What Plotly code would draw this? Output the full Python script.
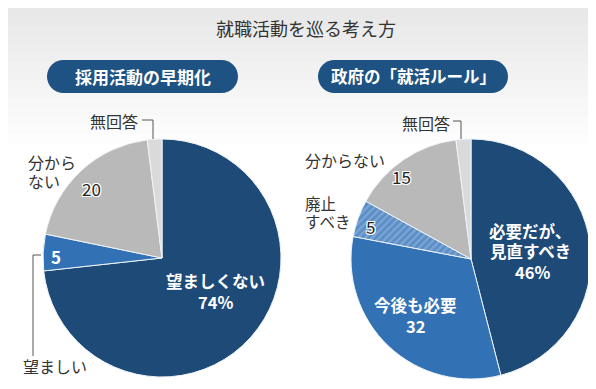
import plotly.graph_objects as go

# ---- data ----
title_text = "就職活動を巡る考え方"
left_title = "採用活動の早期化"
right_title = "政府の「就活ルール」"

left_labels = ["望ましくない", "望ましい", "分からない", "無回答"]
left_values = [74, 5, 20, 2]
left_colors = ["#1e4a78", "#3272b4", "#b9b9b9", "#dadada"]

right_labels = ["必要だが、見直すべき", "今後も必要", "廃止すべき", "分からない", "無回答"]
right_values = [46, 32, 5, 15, 2]
right_colors = ["#1e4a78", "#3272b4", "#5b8ec6", "#b9b9b9", "#dadada"]
right_patterns = ["", "", "/", "", ""]

W, H = 596, 389
FONT = "Noto Sans CJK JP, Noto Sans, sans-serif"
HALO = "1px 1px 0 #fff, -1px -1px 0 #fff, 1px -1px 0 #fff, -1px 1px 0 #fff, 0 1px 0 #fff, 0 -1px 0 #fff, 1px 0 0 #fff, -1px 0 0 #fff"

fig = go.Figure()

# invisible helper trace to establish pixel axes
fig.add_trace(go.Scatter(x=[0, W], y=[0, H], mode="markers",
                         marker=dict(opacity=0), hoverinfo="skip", showlegend=False))

def dom(cx, cy, r):
    return dict(x=[(cx - r) / W, (cx + r) / W], y=[(H - (cy + r)) / H, (H - (cy - r)) / H])

fig.add_trace(go.Pie(
    labels=left_labels, values=left_values, sort=False, direction="clockwise", rotation=0,
    marker=dict(colors=left_colors, line=dict(color="#eef3f8", width=1)),
    textinfo="none", hoverinfo="label+value", showlegend=False,
    domain=dom(154, 250, 119)))

fig.add_trace(go.Pie(
    labels=right_labels, values=right_values, sort=False, direction="clockwise", rotation=0,
    marker=dict(colors=right_colors, line=dict(color="#eef3f8", width=1),
                pattern=dict(shape=right_patterns, fgcolor="#9dbde2", size=5, solidity=0.45,
                             fillmode="overlay")),
    textinfo="none", hoverinfo="label+value", showlegend=False,
    domain=dom(463, 251, 120)))

shapes = []
# background gradient
steps = 16
for i in range(steps):
    t = i / (steps - 1)
    c = int(232 + (255 - 232) * t)
    shapes.append(dict(type="rect", xref="x", yref="y", x0=0, x1=W, y0=i * 9, y1=(i + 1) * 9 + 1,
                       fillcolor=f"rgb({c},{c},{c})", line=dict(width=0), layer="below"))

def pill(x0, x1, y0, y1, color):
    r = (y1 - y0) / 2
    k = 0.5523 * r
    cy = (y0 + y1) / 2
    p = (f"M {x0 + r},{y0} L {x1 - r},{y0} "
         f"C {x1 - r + k},{y0} {x1},{cy - k} {x1},{cy} "
         f"C {x1},{cy + k} {x1 - r + k},{y1} {x1 - r},{y1} "
         f"L {x0 + r},{y1} "
         f"C {x0 + r - k},{y1} {x0},{cy + k} {x0},{cy} "
         f"C {x0},{cy - k} {x0 + r - k},{y0} {x0 + r},{y0} Z")
    return dict(type="path", xref="x", yref="y", path=p, fillcolor=color,
                line=dict(width=0), layer="above")

shapes.append(pill(39, 230, 52, 85, "#1e5282"))
shapes.append(pill(310, 500, 52, 85, "#1e5282"))

def line(path):
    return dict(type="path", xref="x", yref="y", path=path,
                line=dict(color="#555555", width=1), layer="above")

shapes.append(line("M 134,112 L 145,112 L 145,131"))
shapes.append(line("M 445,113 L 453,113 L 453,131"))
shapes.append(line("M 33,247 L 25,247 L 25,348"))

ann = []
def txt(x, y, s, size=16, color="#333333", bold=False, xanchor="center", shadow=None):
    f = dict(family=FONT, size=size, color=color)
    if bold:
        f["weight"] = 700
    if shadow:
        f["shadow"] = shadow
    ann.append(dict(x=x, y=y, xref="x", yref="y", text=s, showarrow=False, font=f,
                    xanchor=xanchor, yanchor="middle", borderpad=0))

txt(298, 20, title_text, size=18, color="#333333")
txt(135, 68, left_title, size=17, color="#ffffff", bold=True)
txt(405, 68, right_title, size=16.5, color="#ffffff", bold=True)

# left pie labels
txt(106, 113, "無回答")
txt(19, 154, "分から", xanchor="left")
txt(19, 173, "ない", xanchor="left")
txt(83, 180, str(left_values[2]), size=17, color="#222222", shadow=HALO)
txt(48, 248, str(left_values[1]), size=17, color="#ffffff", bold=True)
txt(207, 273, "望ましくない", size=16.5, color="#ffffff", bold=True)
txt(207, 294, f"{left_values[0]}%", size=16.5, color="#ffffff", bold=True)
txt(47, 358, "望ましい")

# right pie labels
txt(418, 115, "無回答")
txt(296, 152, "分からない", xanchor="left")
txt(393, 168, str(right_values[3]), size=17, color="#222222", shadow=HALO)
txt(296, 195, "廃止", size=15.5, xanchor="left")
txt(296, 213, "すべき", size=15.5, xanchor="left")
txt(362, 218, str(right_values[2]), size=17, color="#222222", shadow=HALO)
txt(522, 223, "必要だが、", size=16.5, color="#ffffff", bold=True)
txt(522, 243, "見直すべき", size=16.5, color="#ffffff", bold=True)
txt(524, 264, f"{right_values[0]}%", size=16.5, color="#ffffff", bold=True)
txt(407, 297, "今後も必要", size=16.5, color="#ffffff", bold=True)
txt(407, 318, str(right_values[1]), size=16.5, color="#ffffff", bold=True)

fig.update_layout(
    width=W, height=H, margin=dict(l=0, r=0, t=0, b=0),
    paper_bgcolor="#ffffff", plot_bgcolor="rgba(0,0,0,0)",
    xaxis=dict(range=[0, W], visible=False, domain=[0, 1], fixedrange=True),
    yaxis=dict(range=[H, 0], visible=False, domain=[0, 1], fixedrange=True),
    shapes=shapes, annotations=ann, showlegend=False,
)

fig.write_html("out.html")
